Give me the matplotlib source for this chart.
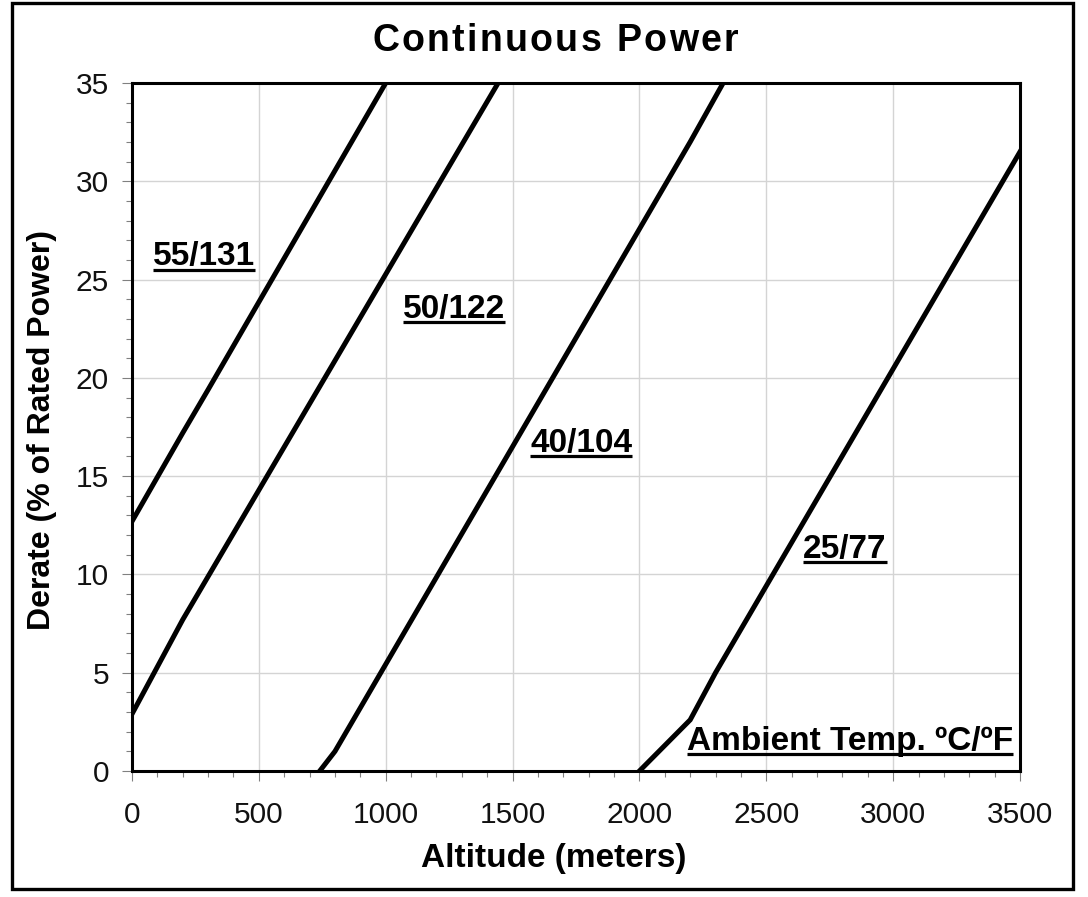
import matplotlib
matplotlib.use("Agg")
import matplotlib.pyplot as plt
from matplotlib.lines import Line2D
from matplotlib.patches import Rectangle
from matplotlib.font_manager import FontProperties
from matplotlib.ticker import MultipleLocator

plt.rcParams['font.family'] = ['Liberation Sans', 'DejaVu Sans']

# ---- data ----
alt_55 = [0, 200, 300, 1000]
der_55 = [12.7, 17.2, 19.4, 35.0]
alt_50 = [0, 200, 1443]
der_50 = [2.9, 7.7, 35.0]
alt_40 = [740, 800, 2200, 2330]
der_40 = [0.0, 1.0, 32.0, 35.0]
alt_25 = [2000, 2200, 2300, 3500]
der_25 = [0.0, 2.6, 5.0, 31.5]

curve_labels = ["55/131", "50/122", "40/104", "25/77", "Ambient Temp. ºC/ºF"]
label_pos = [(82, 25.74), (1067, 23.05), (1569, 16.23), (2645, 10.84), (2186, 1.07)]

x_ticks = [0, 500, 1000, 1500, 2000, 2500, 3000, 3500]
y_ticks = [0, 5, 10, 15, 20, 25, 30, 35]

title = "Continuous Power"
xlabel = "Altitude (meters)"
ylabel = "Derate (% of Rated Power)"

W, H = 1088, 897
fig = plt.figure(figsize=(W / 100, H / 100), dpi=100)
fig.patch.set_facecolor('white')

L, R, T, B = 132, 1020, 83, 771
ax = fig.add_axes([L / W, 1 - B / H, (R - L) / W, (B - T) / H])

for a, d in [(alt_55, der_55), (alt_50, der_50), (alt_40, der_40), (alt_25, der_25)]:
    ax.plot(a, d, color='black', lw=3.6, solid_joinstyle='miter', zorder=3)

ax.set_xlim(0, 3500)
ax.set_ylim(0, 35)
ax.set_xticks(x_ticks)
ax.set_yticks(y_ticks)
ax.xaxis.set_minor_locator(MultipleLocator(100))
ax.yaxis.set_minor_locator(MultipleLocator(1))
ax.grid(True, which='major', color='#d4d4d4', lw=1.0, zorder=0)
ax.set_axisbelow(True)
for s in ax.spines.values():
    s.set_linewidth(2.2)
    s.set_color('black')
ax.tick_params(which='major', direction='out', length=7.5, width=0.8, color='#808080',
               labelsize=21.5, labelcolor='#111111')
ax.tick_params(axis='y', which='major', pad=9)
ax.tick_params(axis='x', which='major', pad=14)
ax.tick_params(which='minor', direction='out', length=4, width=0.8, color='#808080')

# axis labels
fig.text(554 / W, 1 - 858 / H, xlabel, ha='center', va='center', fontsize=24, fontweight='bold')
fig.text(42 / W, 1 - 430 / H, ylabel, ha='center', va='center', rotation=90,
         fontsize=23, fontweight='bold')

# curve labels (bold, underlined)
fig.canvas.draw()
renderer = fig.canvas.get_renderer()
texts = []
for lab, (lx, ly) in zip(curve_labels, label_pos):
    t = ax.text(lx, ly, lab, ha='left', va='baseline', fontsize=24, fontweight='bold', zorder=5)
    texts.append((t, lx, ly))
fig.canvas.draw()
for t, lx, ly in texts:
    bb = t.get_window_extent(renderer)
    by = ax.transData.transform((lx, ly))[1] - 4.5
    fig.add_artist(Line2D([bb.x0 / W, bb.x1 / W], [by / H, by / H], color='black', lw=2.3,
                          solid_capstyle='butt'))

# title with letter spacing
fp = FontProperties(family=['Liberation Sans', 'DejaVu Sans'], weight='bold', size=27)
widths = [renderer.get_text_width_height_descent(ch, fp, ismath=False)[0] for ch in title]
total = 366
gap = (total - sum(widths)) / (len(title) - 1)
x = 555 - total / 2
for ch, w in zip(title, widths):
    fig.text(x / W, 1 - 51 / H, ch, ha='left', va='baseline', fontproperties=fp)
    x += w + gap

# figure border
fig.add_artist(Rectangle((12 / W, 1 - 889 / H), (1073 - 12) / W, (889 - 3) / H,
                         transform=fig.transFigure, fill=False, ec='black', lw=2.4))

fig.savefig('out.png', dpi=100, facecolor='white')
